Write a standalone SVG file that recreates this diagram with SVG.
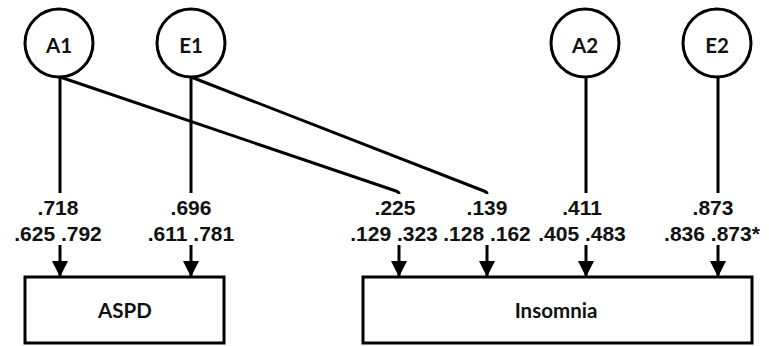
<svg xmlns="http://www.w3.org/2000/svg" width="769" height="346" viewBox="0 0 769 346">
<style>
.ln{stroke:#000;stroke-width:3;fill:none;stroke-linecap:butt}
.nd{stroke:#000;stroke-width:3;fill:#fff}
.nt{font-family:Lato,"Open Sans",sans-serif;font-weight:bold;font-size:20.5px;text-anchor:middle;fill:#111}
.lb{font-family:"Liberation Sans",Arial,sans-serif;font-weight:bold;font-size:21px;text-anchor:middle;fill:#111}
</style>
<defs>
<marker id="ah" markerWidth="16" markerHeight="18" refX="16" refY="9" orient="auto" markerUnits="userSpaceOnUse">
<path d="M0,1 L16,9 L0,17 Z" fill="#000"/>
</marker>
</defs>
<g id="connectors">
<line class="ln" x1="60" y1="77" x2="60" y2="193"/>
<path class="ln" d="M60,77 L396,191 Q399,192 399,194"/>
<line class="ln" x1="191" y1="77" x2="191" y2="193"/>
<path class="ln" d="M191,77 L484,191 Q487,192 487,194"/>
<line class="ln" x1="586" y1="77" x2="586" y2="193"/>
<line class="ln" x1="718" y1="77" x2="718" y2="193"/>
<line class="ln" x1="60" y1="245" x2="60" y2="277" marker-end="url(#ah)"/>
<line class="ln" x1="191" y1="245" x2="191" y2="277" marker-end="url(#ah)"/>
<line class="ln" x1="399" y1="245" x2="399" y2="277" marker-end="url(#ah)"/>
<line class="ln" x1="487" y1="245" x2="487" y2="277" marker-end="url(#ah)"/>
<line class="ln" x1="586" y1="245" x2="586" y2="277" marker-end="url(#ah)"/>
<line class="ln" x1="718" y1="245" x2="718" y2="277" marker-end="url(#ah)"/>
</g>
<g id="labels">
<text class="lb" x="58" y="215">.718</text>
<text class="lb" x="58" y="241">.625 .792</text>
<text class="lb" x="191" y="215">.696</text>
<text class="lb" x="191" y="241">.611 .781</text>
<text class="lb" x="395" y="215">.225</text>
<text class="lb" x="394" y="241">.129 .323</text>
<text class="lb" x="487" y="215">.139</text>
<text class="lb" x="487" y="241">.128 .162</text>
<text class="lb" x="582" y="215">.411</text>
<text class="lb" x="582" y="241">.405 .483</text>
<text class="lb" x="713" y="215">.873</text>
<text class="lb" x="712" y="241">.836 .873*</text>
</g>
<g id="A1"><circle class="nd" cx="59" cy="43" r="34"/><text class="nt" x="59" y="53">A1</text></g>
<g id="E1"><circle class="nd" cx="191" cy="43" r="34"/><text class="nt" x="191" y="53">E1</text></g>
<g id="A2"><circle class="nd" cx="585" cy="43" r="34"/><text class="nt" x="585" y="53">A2</text></g>
<g id="E2"><circle class="nd" cx="717" cy="43" r="34"/><text class="nt" x="717" y="53">E2</text></g>
<g id="ASPD"><rect class="nd" x="25" y="277" width="199" height="66"/><text class="nt" x="125" y="318">ASPD</text></g>
<g id="Insomnia"><rect class="nd" x="363" y="277" width="389" height="66"/><text class="nt" x="556" y="318">Insomnia</text></g>
</svg>
